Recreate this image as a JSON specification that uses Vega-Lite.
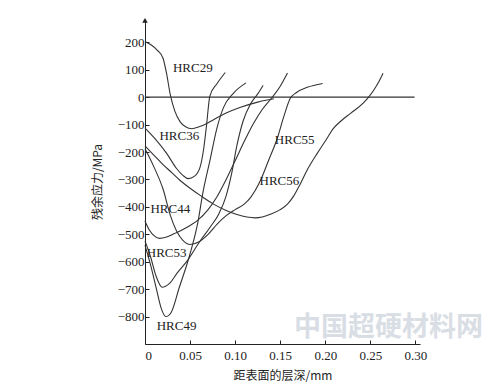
{
  "$schema": "https://vega.github.io/schema/vega-lite/v6.json",
  "width": 275,
  "height": 325,
  "autosize": {"type": "none"},
  "padding": {"left": 145, "top": 19, "right": 80, "bottom": 43},
  "background": "white",
  "config": {"view": {"stroke": null}},
  "datasets": {
    "curves": [
      {"curve": "HRC29", "x": 0, "y": 203}, {"curve": "HRC29", "x": 0.007, "y": 190}, {"curve": "HRC29", "x": 0.014, "y": 170}, {"curve": "HRC29", "x": 0.02, "y": 142}, {"curve": "HRC29", "x": 0.024, "y": 85}, {"curve": "HRC29", "x": 0.028, "y": 10}, {"curve": "HRC29", "x": 0.033, "y": -50}, {"curve": "HRC29", "x": 0.039, "y": -90}, {"curve": "HRC29", "x": 0.045, "y": -108}, {"curve": "HRC29", "x": 0.052, "y": -115}, {"curve": "HRC29", "x": 0.06, "y": -108}, {"curve": "HRC29", "x": 0.068, "y": -97}, {"curve": "HRC29", "x": 0.076, "y": -82}, {"curve": "HRC29", "x": 0.09, "y": -58}, {"curve": "HRC29", "x": 0.106, "y": -37}, {"curve": "HRC29", "x": 0.125, "y": -18}, {"curve": "HRC29", "x": 0.143, "y": -6},
      {"curve": "HRC36", "x": 0, "y": -113}, {"curve": "HRC36", "x": 0.012, "y": -155}, {"curve": "HRC36", "x": 0.024, "y": -205}, {"curve": "HRC36", "x": 0.035, "y": -260}, {"curve": "HRC36", "x": 0.042, "y": -285}, {"curve": "HRC36", "x": 0.048, "y": -297}, {"curve": "HRC36", "x": 0.055, "y": -288}, {"curve": "HRC36", "x": 0.061, "y": -256}, {"curve": "HRC36", "x": 0.065, "y": -190}, {"curve": "HRC36", "x": 0.068, "y": -110}, {"curve": "HRC36", "x": 0.072, "y": 5}, {"curve": "HRC36", "x": 0.08, "y": 50}, {"curve": "HRC36", "x": 0.089, "y": 90},
      {"curve": "HRC44", "x": 0, "y": -452}, {"curve": "HRC44", "x": 0.005, "y": -485}, {"curve": "HRC44", "x": 0.01, "y": -505}, {"curve": "HRC44", "x": 0.016, "y": -515}, {"curve": "HRC44", "x": 0.024, "y": -510}, {"curve": "HRC44", "x": 0.032, "y": -498}, {"curve": "HRC44", "x": 0.04, "y": -486}, {"curve": "HRC44", "x": 0.05, "y": -468}, {"curve": "HRC44", "x": 0.058, "y": -450}, {"curve": "HRC44", "x": 0.07, "y": -410}, {"curve": "HRC44", "x": 0.08, "y": -362}, {"curve": "HRC44", "x": 0.09, "y": -300}, {"curve": "HRC44", "x": 0.1, "y": -232}, {"curve": "HRC44", "x": 0.11, "y": -162}, {"curve": "HRC44", "x": 0.12, "y": -98}, {"curve": "HRC44", "x": 0.13, "y": -45}, {"curve": "HRC44", "x": 0.14, "y": -5}, {"curve": "HRC44", "x": 0.15, "y": 40}, {"curve": "HRC44", "x": 0.158, "y": 88},
      {"curve": "HRC49", "x": 0, "y": -540}, {"curve": "HRC49", "x": 0.006, "y": -610}, {"curve": "HRC49", "x": 0.012, "y": -690}, {"curve": "HRC49", "x": 0.018, "y": -770}, {"curve": "HRC49", "x": 0.023, "y": -800}, {"curve": "HRC49", "x": 0.029, "y": -785}, {"curve": "HRC49", "x": 0.038, "y": -694}, {"curve": "HRC49", "x": 0.05, "y": -571}, {"curve": "HRC49", "x": 0.059, "y": -450}, {"curve": "HRC49", "x": 0.064, "y": -352}, {"curve": "HRC49", "x": 0.072, "y": -231}, {"curve": "HRC49", "x": 0.08, "y": -110}, {"curve": "HRC49", "x": 0.087, "y": -38}, {"curve": "HRC49", "x": 0.098, "y": 14}, {"curve": "HRC49", "x": 0.112, "y": 52},
      {"curve": "HRC53", "x": 0, "y": -525}, {"curve": "HRC53", "x": 0.006, "y": -580}, {"curve": "HRC53", "x": 0.012, "y": -650}, {"curve": "HRC53", "x": 0.019, "y": -693}, {"curve": "HRC53", "x": 0.027, "y": -680}, {"curve": "HRC53", "x": 0.036, "y": -640}, {"curve": "HRC53", "x": 0.047, "y": -596}, {"curve": "HRC53", "x": 0.06, "y": -530}, {"curve": "HRC53", "x": 0.072, "y": -475}, {"curve": "HRC53", "x": 0.082, "y": -425}, {"curve": "HRC53", "x": 0.09, "y": -360}, {"curve": "HRC53", "x": 0.096, "y": -280}, {"curve": "HRC53", "x": 0.102, "y": -175}, {"curve": "HRC53", "x": 0.109, "y": -85}, {"curve": "HRC53", "x": 0.117, "y": -25}, {"curve": "HRC53", "x": 0.125, "y": 12}, {"curve": "HRC53", "x": 0.131, "y": 43},
      {"curve": "HRC55", "x": 0, "y": -188}, {"curve": "HRC55", "x": 0.01, "y": -255}, {"curve": "HRC55", "x": 0.02, "y": -335}, {"curve": "HRC55", "x": 0.028, "y": -430}, {"curve": "HRC55", "x": 0.035, "y": -488}, {"curve": "HRC55", "x": 0.042, "y": -522}, {"curve": "HRC55", "x": 0.05, "y": -537}, {"curve": "HRC55", "x": 0.06, "y": -527}, {"curve": "HRC55", "x": 0.07, "y": -500}, {"curve": "HRC55", "x": 0.08, "y": -463}, {"curve": "HRC55", "x": 0.09, "y": -432}, {"curve": "HRC55", "x": 0.1, "y": -410}, {"curve": "HRC55", "x": 0.11, "y": -390}, {"curve": "HRC55", "x": 0.117, "y": -366}, {"curve": "HRC55", "x": 0.128, "y": -304}, {"curve": "HRC55", "x": 0.137, "y": -231}, {"curve": "HRC55", "x": 0.147, "y": -147}, {"curve": "HRC55", "x": 0.154, "y": -70}, {"curve": "HRC55", "x": 0.161, "y": -5}, {"curve": "HRC55", "x": 0.168, "y": 17}, {"curve": "HRC55", "x": 0.18, "y": 36}, {"curve": "HRC55", "x": 0.197, "y": 50},
      {"curve": "HRC56", "x": 0, "y": -178}, {"curve": "HRC56", "x": 0.01, "y": -212}, {"curve": "HRC56", "x": 0.02, "y": -246}, {"curve": "HRC56", "x": 0.03, "y": -276}, {"curve": "HRC56", "x": 0.039, "y": -304}, {"curve": "HRC56", "x": 0.05, "y": -332}, {"curve": "HRC56", "x": 0.062, "y": -360}, {"curve": "HRC56", "x": 0.076, "y": -390}, {"curve": "HRC56", "x": 0.09, "y": -413}, {"curve": "HRC56", "x": 0.102, "y": -428}, {"curve": "HRC56", "x": 0.113, "y": -437}, {"curve": "HRC56", "x": 0.122, "y": -440}, {"curve": "HRC56", "x": 0.13, "y": -437}, {"curve": "HRC56", "x": 0.139, "y": -427}, {"curve": "HRC56", "x": 0.15, "y": -410}, {"curve": "HRC56", "x": 0.158, "y": -390}, {"curve": "HRC56", "x": 0.165, "y": -360}, {"curve": "HRC56", "x": 0.172, "y": -318}, {"curve": "HRC56", "x": 0.18, "y": -265}, {"curve": "HRC56", "x": 0.191, "y": -205}, {"curve": "HRC56", "x": 0.2, "y": -160}, {"curve": "HRC56", "x": 0.209, "y": -114}, {"curve": "HRC56", "x": 0.218, "y": -85}, {"curve": "HRC56", "x": 0.228, "y": -59}, {"curve": "HRC56", "x": 0.242, "y": -22}, {"curve": "HRC56", "x": 0.248, "y": 0}, {"curve": "HRC56", "x": 0.254, "y": 27}, {"curve": "HRC56", "x": 0.259, "y": 54}, {"curve": "HRC56", "x": 0.264, "y": 87}
    ],
    "zero": [{"x": 0, "y": 0}, {"x": 0.299, "y": 0}],
    "labels": [
      {"x": 0.031, "y": 105, "label": "HRC29"},
      {"x": 0.016, "y": -140, "label": "HRC36"},
      {"x": 0.006, "y": -407, "label": "HRC44"},
      {"x": 0.002, "y": -570, "label": "HRC53"},
      {"x": 0.013, "y": -833, "label": "HRC49"},
      {"x": 0.144, "y": -155, "label": "HRC55"},
      {"x": 0.127, "y": -304, "label": "HRC56"}
    ],
    "arrow": [{"x": 0, "y": 280}],
    "wm": [{"x": 0.27, "y": -840, "label": "中国超硬材料网"}]
  },
  "encoding": {
    "x": {
      "field": "x", "type": "quantitative",
      "scale": {"domain": [0, 0.305], "nice": false, "zero": false},
      "axis": {
        "values": [0, 0.05, 0.1, 0.15, 0.2, 0.25, 0.3],
        "labelExpr": "datum.value == 0 ? '0' : format(datum.value, '.2f')",
        "grid": false, "domainColor": "#222", "domainWidth": 1,
        "tickColor": "#222", "tickSize": -4, "labelPadding": 9,
        "labelFont": "Liberation Serif", "labelFontSize": 13, "labelColor": "#222",
        "title": "距表面的层深/mm", "titleFont": "Noto Sans CJK SC", "titleFontSize": 12,
        "titleFontWeight": "normal", "titleColor": "#222", "titlePadding": 8
      }
    },
    "y": {
      "field": "y", "type": "quantitative",
      "scale": {"domain": [-900, 285], "nice": false, "zero": false},
      "axis": {
        "values": [-800, -700, -600, -500, -400, -300, -200, -100, 0, 100, 200],
        "grid": false, "domainColor": "#222", "domainWidth": 1,
        "tickColor": "#222", "tickSize": -4, "labelPadding": 5,
        "labelFont": "Liberation Serif", "labelFontSize": 13, "labelColor": "#222",
        "title": "残余应力/MPa", "titleFont": "Noto Sans CJK SC", "titleFontSize": 12,
        "titleFontWeight": "normal", "titleColor": "#222", "titlePadding": 13
      }
    }
  },
  "layer": [
    {"data": {"name": "zero"}, "mark": {"type": "line", "color": "#333", "strokeWidth": 1.1}},
    {"data": {"name": "curves"}, "mark": {"type": "line", "color": "#333", "strokeWidth": 1.1, "interpolate": "monotone"}, "encoding": {"detail": {"field": "curve"}}},
    {"data": {"name": "labels"}, "mark": {"type": "text", "align": "left", "baseline": "middle", "font": "Liberation Serif", "fontSize": 13, "color": "#222"}, "encoding": {"text": {"field": "label"}}},
    {"data": {"name": "arrow"}, "mark": {"type": "point", "shape": "triangle-up", "filled": true, "color": "#222", "size": 30, "opacity": 1}},
    {"data": {"name": "wm"}, "mark": {"type": "text", "align": "center", "baseline": "middle", "font": "Noto Sans CJK SC", "fontSize": 27, "fontWeight": "bold", "color": "#d9dee5", "clip": false}, "encoding": {"text": {"field": "label"}}}
  ]
}
